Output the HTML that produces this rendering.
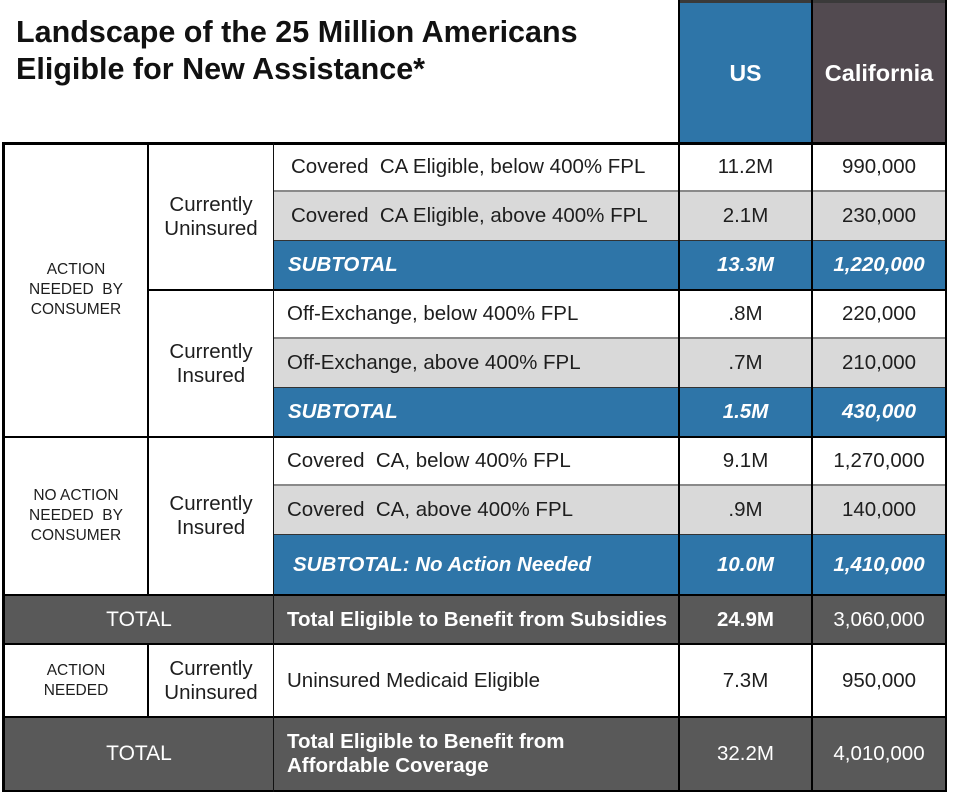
<!DOCTYPE html>
<html>
<head>
<meta charset="utf-8">
<style>
  html, body { margin:0; padding:0; background:#fff; }
  #c { position:relative; width:954px; height:808px; overflow:hidden; background:#fff;
       font-family:"Liberation Sans", Arial, sans-serif; color:#1e1e1e; }
  .bg { position:absolute; }
  .ln { position:absolute; background:#000; }
  .cell { position:absolute; display:flex; align-items:center; justify-content:center; text-align:center; white-space:nowrap; font-size:20.5px; line-height:24px; }
  .lt { justify-content:flex-start; text-align:left; }
  .w { color:#fff; }
  .b { font-weight:bold; }
  .bi { font-weight:bold; font-style:italic; }
  .sm { font-size:15.5px; line-height:20px; }
</style>
</head>
<body>
<div id="c">
  <!-- Title -->
  <div style="position:absolute; left:16px; top:14px; font-size:30.5px; line-height:37px; font-weight:bold; color:#111; white-space:nowrap;">Landscape of the 25 Million Americans<br>Eligible for New Assistance*</div>

  <!-- backgrounds -->
  <div class="bg" style="left:679px; top:2px; width:133px; height:141px; background:#2e75a8;"></div>
  <div class="bg" style="left:812px; top:2px; width:135px; height:141px; background:#524a50;"></div>

  <div class="bg" style="left:274px; top:191px; width:673px; height:49px; background:#d9d9d9;"></div>
  <div class="bg" style="left:274px; top:240px; width:673px; height:50px; background:#2e75a8;"></div>
  <div class="bg" style="left:274px; top:338px; width:673px; height:49px; background:#d9d9d9;"></div>
  <div class="bg" style="left:274px; top:387px; width:673px; height:50px; background:#2e75a8;"></div>
  <div class="bg" style="left:274px; top:485px; width:673px; height:49px; background:#d9d9d9;"></div>
  <div class="bg" style="left:274px; top:534px; width:673px; height:61px; background:#2e75a8;"></div>
  <div class="bg" style="left:3px; top:595px; width:944px; height:49px; background:#595959;"></div>
  <div class="bg" style="left:3px; top:717px; width:944px; height:74px; background:#595959;"></div>

  <!-- thin row separators -->
  <div class="ln" style="left:274px; top:190px; width:673px; height:2px; background:#8a8a8a;"></div>
  <div class="ln" style="left:274px; top:240px; width:673px; height:1px; background:#333;"></div>
  <div class="ln" style="left:274px; top:337px; width:673px; height:2px; background:#8a8a8a;"></div>
  <div class="ln" style="left:274px; top:387px; width:673px; height:1px; background:#333;"></div>
  <div class="ln" style="left:274px; top:484px; width:673px; height:2px; background:#8a8a8a;"></div>
  <div class="ln" style="left:274px; top:534px; width:673px; height:1px; background:#333;"></div>

  <!-- header top -->
  <div class="ln" style="left:678px; top:0px; width:269px; height:3px; background:#3a3a3a;"></div>

  <!-- thick horizontals -->
  <div class="ln" style="left:2px; top:142px; width:945px; height:3px;"></div>
  <div class="ln" style="left:147px; top:289px; width:800px; height:2px;"></div>
  <div class="ln" style="left:2px; top:436px; width:945px; height:2px;"></div>
  <div class="ln" style="left:2px; top:594px; width:945px; height:2px;"></div>
  <div class="ln" style="left:2px; top:643px; width:945px; height:2px;"></div>
  <div class="ln" style="left:2px; top:716px; width:945px; height:2px;"></div>
  <div class="ln" style="left:2px; top:790px; width:945px; height:2px;"></div>

  <!-- verticals -->
  <div class="ln" style="left:2px; top:142px; width:3px; height:650px;"></div>
  <div class="ln" style="left:945px; top:0px; width:2px; height:792px;"></div>
  <div class="ln" style="left:147px; top:143px; width:2px; height:452px;"></div>
  <div class="ln" style="left:147px; top:644px; width:2px; height:73px;"></div>
  <div class="ln" style="left:273px; top:143px; width:1px; height:649px; background:#111;"></div>
  <div class="ln" style="left:678px; top:0px; width:2px; height:792px;"></div>
  <div class="ln" style="left:811px; top:0px; width:2px; height:792px;"></div>

  <!-- header text -->
  <div class="cell w b" style="left:680px; top:2px; width:131px; height:141px; font-size:23px;">US</div>
  <div class="cell w b" style="left:813px; top:2px; width:132px; height:141px; font-size:23.5px;">California</div>

  <!-- col1 labels -->
  <div class="cell sm" style="left:5px; top:143px; width:142px; height:294px;">ACTION<br>NEEDED&nbsp; BY<br>CONSUMER</div>
  <div class="cell sm" style="left:5px; top:437px; width:142px; height:158px;">NO ACTION<br>NEEDED&nbsp; BY<br>CONSUMER</div>
  <div class="cell w" style="left:5px; top:595px; width:268px; height:49px; font-size:21px;">TOTAL</div>
  <div class="cell sm" style="left:5px; top:644px; width:142px; height:73px;">ACTION<br>NEEDED</div>
  <div class="cell w" style="left:5px; top:717px; width:268px; height:74px; font-size:21px;">TOTAL</div>

  <!-- col2 labels -->
  <div class="cell" style="left:149px; top:143px; width:124px; height:147px;">Currently<br>Uninsured</div>
  <div class="cell" style="left:149px; top:290px; width:124px; height:147px;">Currently<br>Insured</div>
  <div class="cell" style="left:149px; top:437px; width:124px; height:158px;">Currently<br>Insured</div>
  <div class="cell" style="left:149px; top:644px; width:124px; height:73px;">Currently<br>Uninsured</div>

  <!-- col3 descriptions -->
  <div class="cell lt" style="left:291px; top:143px; width:380px; height:48px;">Covered&nbsp; CA Eligible, below 400% FPL</div>
  <div class="cell lt" style="left:291px; top:191px; width:380px; height:49px;">Covered&nbsp; CA Eligible, above 400% FPL</div>
  <div class="cell lt w bi" style="left:288px; top:240px; width:380px; height:50px;">SUBTOTAL</div>
  <div class="cell lt" style="left:287px; top:290px; width:380px; height:48px;">Off-Exchange, below 400% FPL</div>
  <div class="cell lt" style="left:287px; top:338px; width:380px; height:49px;">Off-Exchange, above 400% FPL</div>
  <div class="cell lt w bi" style="left:288px; top:387px; width:380px; height:50px;">SUBTOTAL</div>
  <div class="cell lt" style="left:287px; top:437px; width:380px; height:48px;">Covered&nbsp; CA, below 400% FPL</div>
  <div class="cell lt" style="left:287px; top:485px; width:380px; height:49px;">Covered&nbsp; CA, above 400% FPL</div>
  <div class="cell lt w bi" style="left:293px; top:534px; width:380px; height:61px;">SUBTOTAL: No Action Needed</div>
  <div class="cell lt w b" style="left:287px; top:595px; width:390px; height:49px;">Total Eligible to Benefit from Subsidies</div>
  <div class="cell lt" style="left:287px; top:644px; width:380px; height:73px;">Uninsured Medicaid Eligible</div>
  <div class="cell lt w b" style="left:287px; top:717px; width:380px; height:74px;">Total Eligible to Benefit from<br>Affordable Coverage</div>

  <!-- US column -->
  <div class="cell" style="left:680px; top:143px; width:131px; height:48px;">11.2M</div>
  <div class="cell" style="left:680px; top:191px; width:131px; height:49px;">2.1M</div>
  <div class="cell w bi" style="left:680px; top:240px; width:131px; height:50px;">13.3M</div>
  <div class="cell" style="left:680px; top:290px; width:131px; height:48px;">.8M</div>
  <div class="cell" style="left:680px; top:338px; width:131px; height:49px;">.7M</div>
  <div class="cell w bi" style="left:680px; top:387px; width:131px; height:50px;">1.5M</div>
  <div class="cell" style="left:680px; top:437px; width:131px; height:48px;">9.1M</div>
  <div class="cell" style="left:680px; top:485px; width:131px; height:49px;">.9M</div>
  <div class="cell w bi" style="left:680px; top:534px; width:131px; height:61px;">10.0M</div>
  <div class="cell w b" style="left:680px; top:595px; width:131px; height:49px;">24.9M</div>
  <div class="cell" style="left:680px; top:644px; width:131px; height:73px;">7.3M</div>
  <div class="cell w" style="left:680px; top:717px; width:131px; height:74px;">32.2M</div>

  <!-- California column -->
  <div class="cell" style="left:813px; top:143px; width:132px; height:48px;">990,000</div>
  <div class="cell" style="left:813px; top:191px; width:132px; height:49px;">230,000</div>
  <div class="cell w bi" style="left:813px; top:240px; width:132px; height:50px;">1,220,000</div>
  <div class="cell" style="left:813px; top:290px; width:132px; height:48px;">220,000</div>
  <div class="cell" style="left:813px; top:338px; width:132px; height:49px;">210,000</div>
  <div class="cell w bi" style="left:813px; top:387px; width:132px; height:50px;">430,000</div>
  <div class="cell" style="left:813px; top:437px; width:132px; height:48px;">1,270,000</div>
  <div class="cell" style="left:813px; top:485px; width:132px; height:49px;">140,000</div>
  <div class="cell w bi" style="left:813px; top:534px; width:132px; height:61px;">1,410,000</div>
  <div class="cell w" style="left:813px; top:595px; width:132px; height:49px;">3,060,000</div>
  <div class="cell" style="left:813px; top:644px; width:132px; height:73px;">950,000</div>
  <div class="cell w" style="left:813px; top:717px; width:132px; height:74px;">4,010,000</div>
</div>
</body>
</html>
